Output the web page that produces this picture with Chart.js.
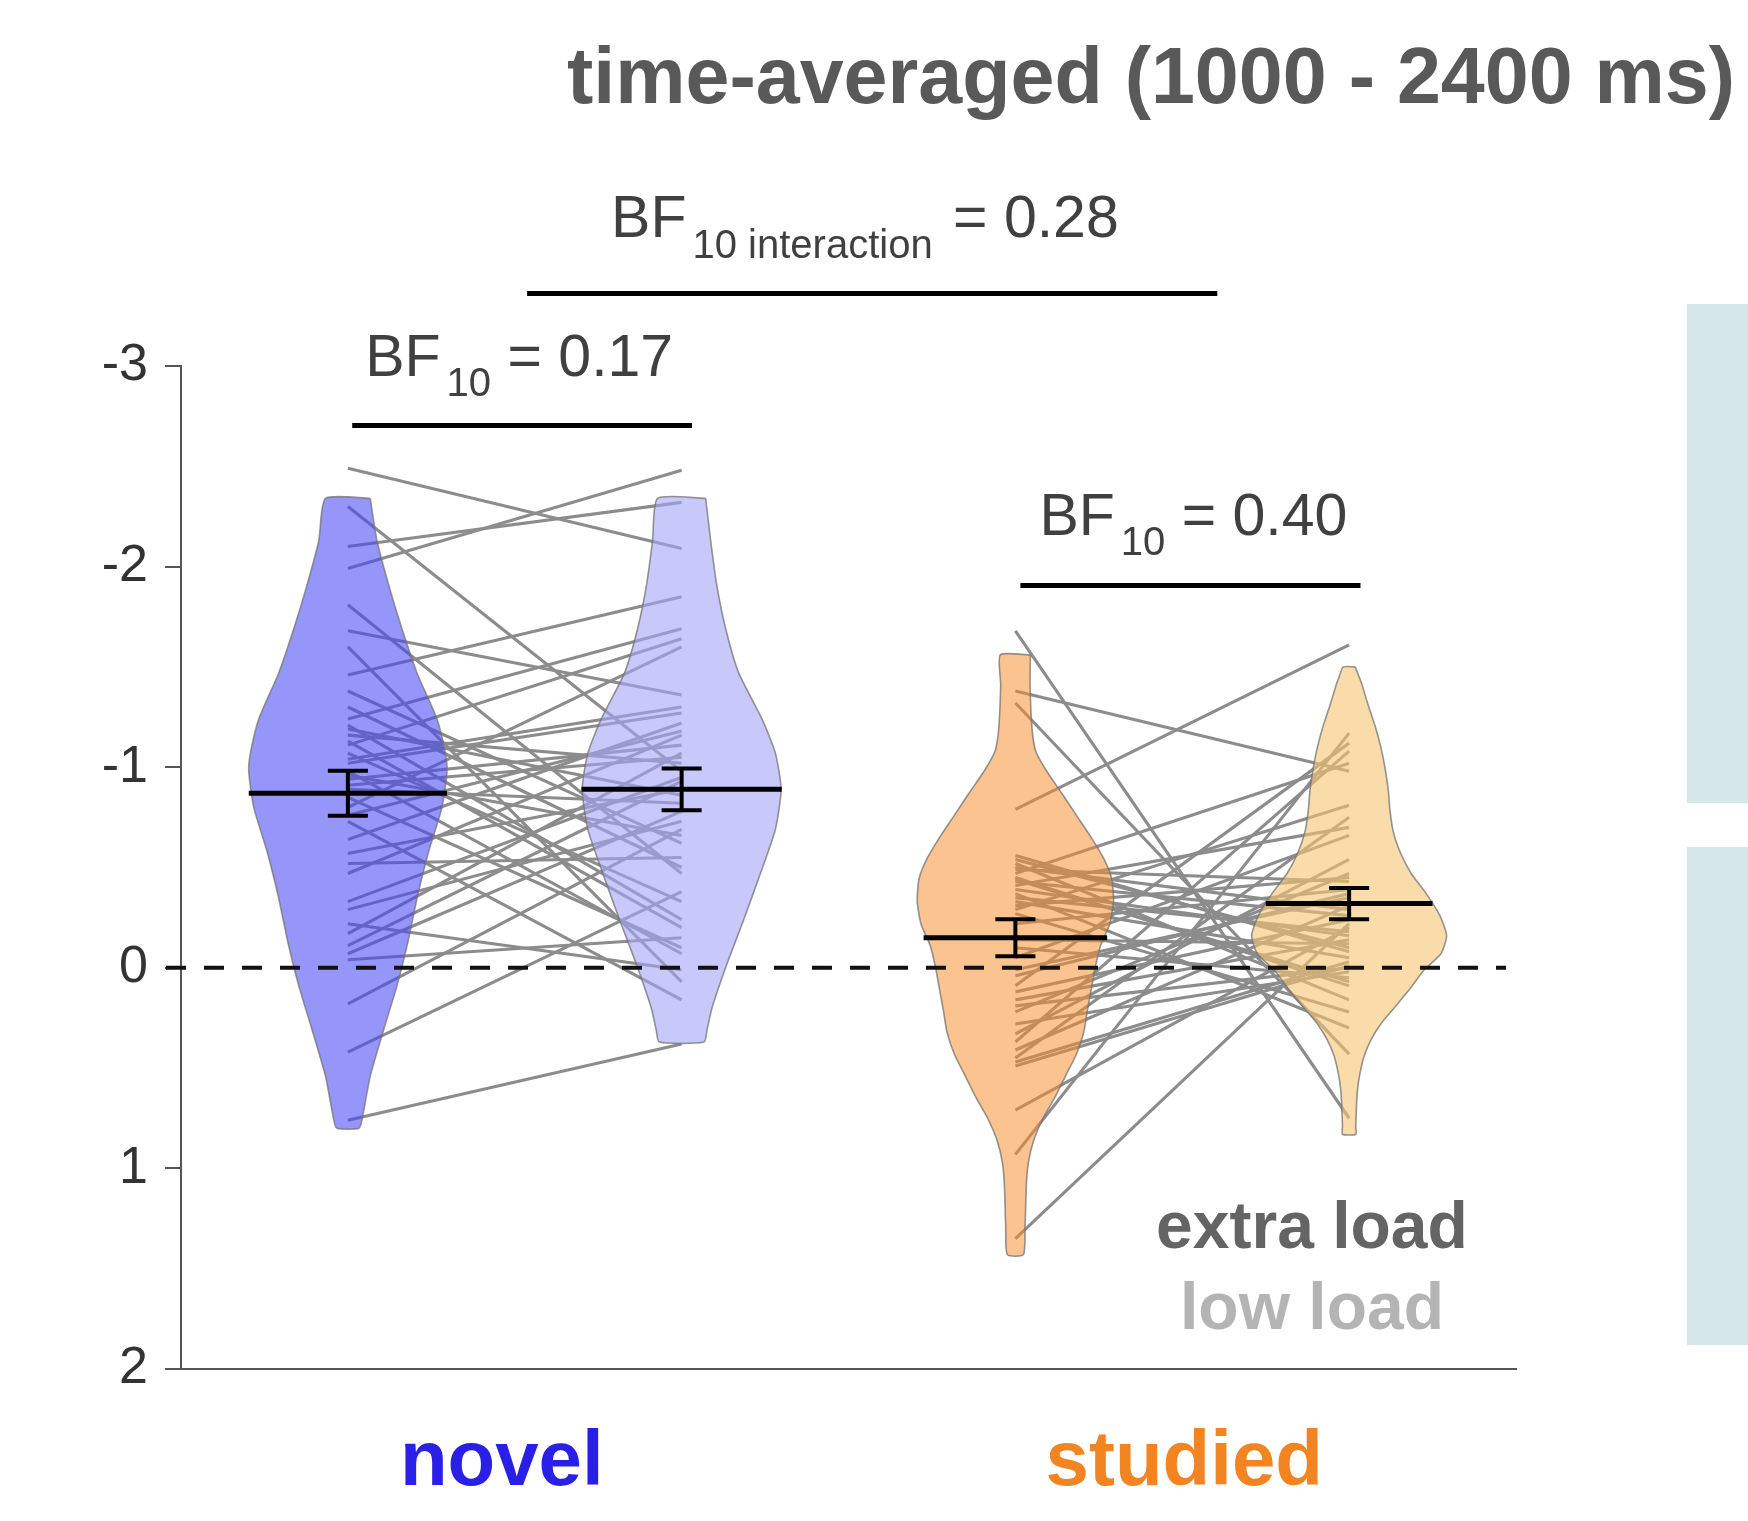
<!DOCTYPE html>
<html>
<head>
<meta charset="utf-8">
<title>time-averaged (1000 - 2400 ms)</title>
<script src="https://cdn.jsdelivr.net/npm/chart.js@4.4.0/dist/chart.umd.min.js"></script>
<style>
  html, body { margin: 0; padding: 0; background: #ffffff; }
  canvas { display: block; }
</style>
</head>
<body>
<canvas id="chart" width="1748" height="1521" style="width:1748px;height:1521px"></canvas>
<script>
// ---- data -------------------------------------------------------------
const categories = ['novel', 'studied'];
const loadLevels = ['extra load', 'low load'];
const titleText = 'time-averaged (1000 - 2400 ms)';
const yTicks = [-3, -2, -1, 0, 1, 2];

// per-participant values, paired by index (extra load -> low load)
const novelExtra = [-2.49, -2.30, -2.10, -1.99, -1.81, -1.68, -1.60, -1.46, -1.38, -1.24, -1.21,
  -1.16, -1.11, -1.07, -1.02, -0.98, -0.94, -0.89, -0.80, -0.73, -0.64, -0.57, -0.52, -0.47,
  -0.29, -0.22, -0.17, -0.11, -0.04, 0.18, 0.42, 0.76,
  -1.30, -1.19, -1.13, -1.04, -0.96, -0.91, -0.85, -0.76, -0.33, -0.07];
const novelLow = [-2.09, -0.98, -2.32, -2.48, -0.47, -1.36, 0.07, -1.85, -0.62, -1.69, -0.24,
  -1.02, -1.64, -0.33, -1.27, -0.07, -1.11, -0.82, -1.60, 0.16, -1.22, -0.89, -0.55, -1.16,
  -0.73, 0.01, -1.07, -0.93, -0.15, -0.69, -0.38, 0.38,
  -0.50, -0.86, -0.20, -1.30, -0.66, -1.05, -0.10, -1.18, -0.95, -0.78];
const studiedExtra = [-1.68, -1.38, -1.32, -0.79, -0.54, -0.52, -0.49, -0.47, -0.45, -0.43, -0.41,
  -0.37, -0.35, -0.33, -0.29, -0.27, -0.22, -0.14, -0.10, -0.05, 0.01, 0.09, 0.16, 0.22,
  0.28, 0.37, 0.41, 0.45, 0.49, 0.71, 0.93, 1.35,
  -0.56, -0.50, -0.44, -0.39, -0.31, 0.04, 0.12, 0.19, 0.33, 0.47];
const studiedLow = [0.75, -0.98, 0.43, -1.61, -0.10, 0.16, -0.43, -1.02, 0.09, -0.26, -0.70,
  0.30, -0.18, -0.05, -0.81, 0.22, -0.39, -0.12, 0.05, -0.66, -0.35, -1.12, -0.14, -0.47,
  0.02, -1.08, -0.31, -0.75, -0.01, -0.20, -1.17, -0.22,
  -0.08, -0.29, 0.07, -0.16, -0.45, -0.37, -0.24, 0.00, -0.54, -0.03];

// condition means and standard errors: novel extra, novel low, studied extra, studied low
const meanValues = [-0.87, -0.89, -0.15, -0.32];
const semValues = [0.112, 0.104, 0.092, 0.078];

// violin outlines: density half-width (x units) at each level of the y scale
const violinNovelExtraY = [-2.34, -2.13, -1.91, -1.69, -1.47, -1.24, -1.07, -0.98, -0.80, -0.58,
  -0.36, -0.13, 0.09, 0.31, 0.54, 0.76, 0.80];
const violinNovelExtraW = [0.067, 0.087, 0.122, 0.162, 0.207, 0.267, 0.292, 0.297, 0.282, 0.242,
  0.209, 0.180, 0.147, 0.107, 0.067, 0.042, 0.033];
const violinNovelLowY = [-2.34, -2.13, -1.91, -1.69, -1.47, -1.24, -1.07, -0.89, -0.69, -0.47,
  -0.24, -0.02, 0.20, 0.31, 0.37];
const violinNovelLowW = [0.072, 0.087, 0.105, 0.132, 0.171, 0.241, 0.281, 0.298, 0.281, 0.236,
  0.186, 0.136, 0.091, 0.076, 0.067];
const violinStudiedExtraY = [-1.56, -1.41, -1.19, -1.08, -0.98, -0.87, -0.76, -0.65, -0.54, -0.44,
  -0.33, -0.22, -0.11, 0.00, 0.11, 0.21, 0.32, 0.43, 0.54, 0.65, 0.75, 0.86, 0.97, 1.08, 1.29, 1.43];
const violinStudiedExtraW = [0.045, 0.044, 0.050, 0.061, 0.094, 0.139, 0.183, 0.227, 0.266, 0.289,
  0.294, 0.283, 0.255, 0.239, 0.227, 0.216, 0.205, 0.183, 0.150, 0.117, 0.083, 0.055, 0.039, 0.033,
  0.029, 0.024];
const violinStudiedLowY = [-1.50, -1.45, -1.42, -1.31, -1.21, -1.10, -1.00, -0.89, -0.79, -0.68,
  -0.58, -0.47, -0.37, -0.26, -0.16, -0.07, 0.01, 0.11, 0.20, 0.28, 0.36, 0.44, 0.53, 0.61, 0.69,
  0.79, 0.83];
const violinStudiedLowW = [0.018, 0.030, 0.037, 0.057, 0.077, 0.095, 0.107, 0.117, 0.122, 0.132,
  0.152, 0.186, 0.231, 0.272, 0.292, 0.275, 0.225, 0.180, 0.135, 0.095, 0.065, 0.045, 0.032, 0.025,
  0.022, 0.020, 0.020];

// Bayes factors: interaction, novel pair, studied pair
const bfLabels = ['0.28', '0.17', '0.40'];

// ---- styling ----------------------------------------------------------
const FONT = '"Liberation Sans", Arial, Helvetica, sans-serif';
const conditionX = [1, 2, 3, 4];
const violinFills = ['rgba(68,68,246,0.56)', 'rgba(163,163,247,0.6)',
  'rgba(245,140,43,0.52)', 'rgba(247,197,113,0.6)'];
const meanHalfWidths = [0.297, 0.300, 0.275, 0.250];
const capHalf = 0.06;

const lineBase = { showLine: true, pointRadius: 0, pointHoverRadius: 0, fill: false, tension: 0 };
const datasets = [];

// paired participant lines
[[novelExtra, novelLow, 1, 2], [studiedExtra, studiedLow, 3, 4]].forEach(([a, b, xa, xb]) => {
  a.forEach((v, i) => {
    datasets.push(Object.assign({}, lineBase, {
      data: [{ x: xa, y: v }, { x: xb, y: b[i] }],
      borderColor: 'rgb(140,140,140)', borderWidth: 3.1, order: 6
    }));
  });
});

// violins as closed outlines
function violinOutline(cx, ys, ws) {
  const pts = [];
  for (let i = 0; i < ys.length; i++) pts.push({ x: cx + ws[i], y: ys[i] });
  for (let i = ys.length - 1; i >= 0; i--) pts.push({ x: cx - ws[i], y: ys[i] });
  pts.push(pts[0]);
  return pts;
}
const violins = [
  [violinNovelExtraY, violinNovelExtraW],
  [violinNovelLowY, violinNovelLowW],
  [violinStudiedExtraY, violinStudiedExtraW],
  [violinStudiedLowY, violinStudiedLowW]
];
violins.forEach(([ys, ws], k) => {
  datasets.push(Object.assign({}, lineBase, {
    data: violinOutline(conditionX[k], ys, ws),
    fill: 'shape', backgroundColor: violinFills[k],
    borderColor: 'rgba(115,115,115,0.75)', borderWidth: 1.6, borderJoinStyle: 'round',
    tension: 0.2, order: 5
  }));
});

// zero reference line
datasets.push(Object.assign({}, lineBase, {
  data: [{ x: 0.455, y: 0 }, { x: 4.47, y: 0 }],
  borderColor: '#111111', borderWidth: 4, borderDash: [20, 18], order: 4, clip: false
}));

// means with standard-error bars
meanValues.forEach((m, k) => {
  const cx = conditionX[k], hw = meanHalfWidths[k], s = semValues[k];
  const segs = [
    [{ x: cx - hw, y: m }, { x: cx + hw, y: m }],
    [{ x: cx, y: m - s }, { x: cx, y: m + s }],
    [{ x: cx - capHalf, y: m - s }, { x: cx + capHalf, y: m - s }],
    [{ x: cx - capHalf, y: m + s }, { x: cx + capHalf, y: m + s }]
  ];
  segs.forEach((seg, j) => {
    datasets.push(Object.assign({}, lineBase, {
      data: seg, borderColor: '#000000', borderWidth: j === 0 ? 5 : 4, order: 3
    }));
  });
});

// comparison brackets (x span, level on the y scale)
const bfBars = [
  { from: 1.537, to: 3.605, y: -3.361 },
  { from: 1.013, to: 2.031, y: -2.703 },
  { from: 3.015, to: 4.034, y: -1.906 }
];
bfBars.forEach(b => {
  datasets.push(Object.assign({}, lineBase, {
    data: [{ x: b.from, y: b.y }, { x: b.to, y: b.y }],
    borderColor: '#000000', borderWidth: 5, order: 2, clip: false
  }));
});

// ---- text and panels --------------------------------------------------
const figureText = {
  id: 'figureText',
  beforeDraw(chart) {
    const ctx = chart.ctx;
    ctx.save();
    ctx.fillStyle = '#d5e7ea';
    ctx.fillRect(1687, 304, 70, 499);
    ctx.fillRect(1687, 847, 70, 498);
    ctx.restore();
  },
  afterDraw(chart) {
    const ctx = chart.ctx;
    const xs = chart.scales.x, ys = chart.scales.y;
    ctx.save();
    ctx.textBaseline = 'alphabetic';

    // title
    ctx.fillStyle = '#595959';
    ctx.font = `bold 79px ${FONT}`;
    ctx.textAlign = 'left';
    ctx.fillText(titleText, 567, 103);

    // Bayes factor labels
    function bf(x, y, sub, rest, drop, gap) {
      ctx.textAlign = 'left';
      ctx.fillStyle = '#404040';
      ctx.font = `59px ${FONT}`;
      ctx.fillText('BF', x, y);
      let cx = x + ctx.measureText('BF').width + 6;
      ctx.font = `40px ${FONT}`;
      ctx.fillText(sub, cx, y + drop);
      cx += ctx.measureText(sub).width + gap;
      ctx.font = `59px ${FONT}`;
      ctx.fillText(rest, cx, y);
    }
    const offs = [[84, 57, '10 interaction', 21, 4], [13, 50, '10', 20, 0], [19, 50, '10', 20, 0]];
    bfBars.forEach((b, i) => {
      const [dx, dy, sub, drop, gap] = offs[i];
      bf(xs.getPixelForValue(b.from) + dx, ys.getPixelForValue(b.y) - dy, sub,
         ' = ' + bfLabels[i], drop, gap);
    });

    // load legend
    ctx.textAlign = 'center';
    ctx.font = `bold 66px ${FONT}`;
    ctx.fillStyle = '#646464';
    ctx.fillText(loadLevels[0], 1312, 1248);
    ctx.fillStyle = '#b4b4b4';
    ctx.fillText(loadLevels[1], 1312, 1329);

    // category labels
    ctx.font = `bold 78px ${FONT}`;
    ctx.fillStyle = '#2a1fe6';
    ctx.fillText(categories[0], (xs.getPixelForValue(1) + xs.getPixelForValue(2)) / 2 - 13, 1485);
    ctx.fillStyle = '#f28422';
    ctx.fillText(categories[1], (xs.getPixelForValue(3) + xs.getPixelForValue(4)) / 2 + 2, 1485);
    ctx.restore();
  }
};

new Chart(document.getElementById('chart'), {
  type: 'scatter',
  data: { datasets },
  plugins: [figureText],
  options: {
    responsive: false,
    devicePixelRatio: 1,
    animation: false,
    events: [],
    layout: { padding: { left: 0, top: 366, right: 232, bottom: 152 } },
    plugins: { legend: { display: false }, tooltip: { enabled: false }, title: { display: false } },
    scales: {
      x: {
        type: 'linear', min: 0.5, max: 4.5,
        grid: { display: false },
        ticks: { display: false },
        border: { display: true, color: '#555555', width: 2 },
        afterFit(s) { s.height = 0; }
      },
      y: {
        type: 'linear', reverse: true, min: -3, max: 2,
        afterBuildTicks(s) { s.ticks = yTicks.map(v => ({ value: v })); },
        ticks: {
          callback: v => String(v),
          font: { family: FONT, size: 52 },
          color: '#333333',
          padding: 17
        },
        grid: { display: true, drawOnChartArea: false, drawTicks: true, tickLength: 16,
                color: '#555555', lineWidth: 2 },
        border: { display: true, color: '#555555', width: 2 },
        afterFit(s) { s.width = 181; }
      }
    }
  }
});
</script>
</body>
</html>
